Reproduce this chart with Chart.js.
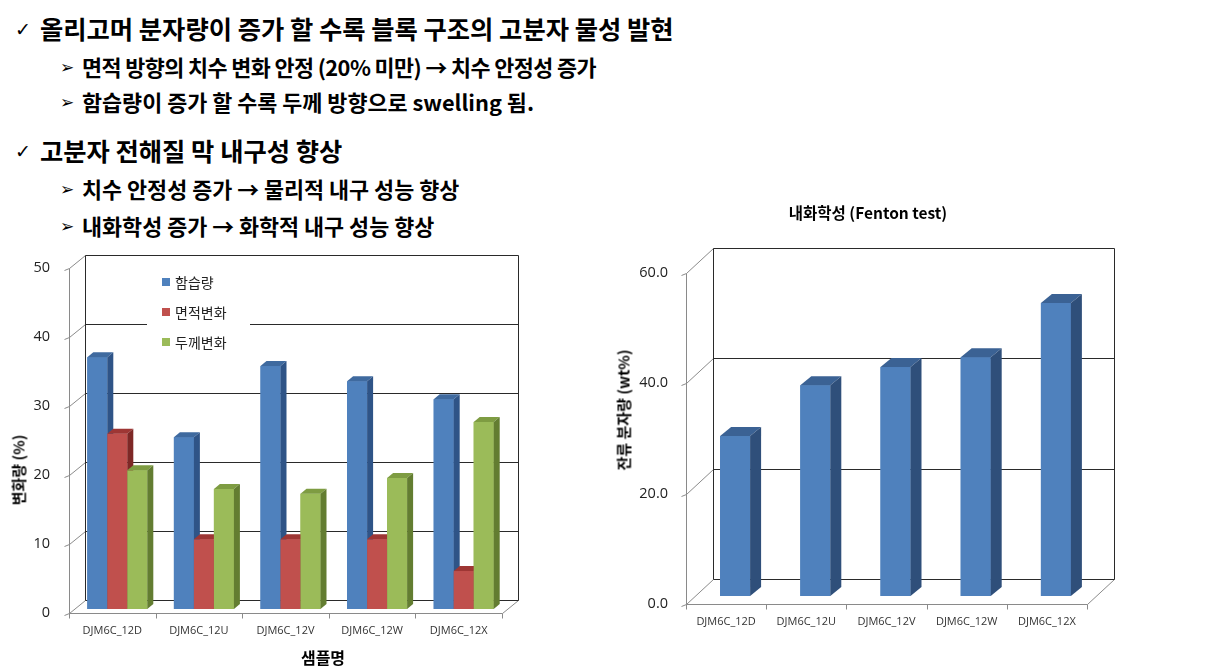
<!DOCTYPE html>
<html>
<head>
<meta charset="utf-8">
<script src="https://cdn.jsdelivr.net/npm/chart.js@4.4.0/dist/chart.umd.min.js"></script>
<style>
body { margin: 0; width: 1214px; height: 671px; background: #fff; position: relative; overflow: hidden; font-family: "Noto Sans CJK KR", sans-serif; }
.t { position: absolute; white-space: nowrap; font-weight: 700; color: #000; line-height: 1; }
.h1 { font-size: 25.3px; }
.h2 { font-size: 21.8px; }
.mk { position: absolute; white-space: nowrap; line-height: 1; font-family: "DejaVu Sans", sans-serif; color: #000; }
.c { position: absolute; white-space: nowrap; font-weight: 700; color: #000; transform: translate(-50%, -50%); line-height: 1; }
.rot { transform: translate(-50%, -50%) rotate(-90deg); }
#leftBox { position: absolute; left: 0; top: 240px; width: 600px; height: 431px; }
#rightBox { position: absolute; left: 600px; top: 190px; width: 614px; height: 481px; }
</style>
</head>
<body>
<div class="mk" style="left:15px; top:20px; font-size:19px;">✓</div>
<div class="t h1" style="left:40px; top:16px;">올리고머 분자량이 증가 할 수록 블록 구조의 고분자 물성 발현</div>
<div class="mk" style="left:60px; top:59px; font-size:17px;">➢</div>
<div class="t h2" style="left:82px; top:56px; letter-spacing:-0.6px;">면적 방향의 치수 변화 안정 (20% 미만) → 치수 안정성 증가</div>
<div class="mk" style="left:60px; top:94px; font-size:17px;">➢</div>
<div class="t h2" style="left:82px; top:91px;">함습량이 증가 할 수록 두께 방향으로 swelling 됨.</div>
<div class="mk" style="left:15px; top:142px; font-size:19px;">✓</div>
<div class="t h1" style="left:40px; top:138px;">고분자 전해질 막 내구성 향상</div>
<div class="mk" style="left:60px; top:181px; font-size:17px;">➢</div>
<div class="t h2" style="left:82px; top:178px;">치수 안정성 증가 → 물리적 내구 성능 향상</div>
<div class="mk" style="left:60px; top:218px; font-size:17px;">➢</div>
<div class="t h2" style="left:82px; top:215px;">내화학성 증가 → 화학적 내구 성능 향상</div>

<div id="leftBox"><canvas id="swellChart"></canvas></div>
<div id="rightBox"><canvas id="fentonChart"></canvas></div>

<div class="c rot" style="left:18px; top:470px; font-size:15px;">변화량 (%)</div>
<div class="c" style="left:323px; top:657px; font-size:16px;">샘플명</div>
<div class="c rot" style="left:623px; top:410px; font-size:15px;">잔류 분자량 (wt%)</div>
<div class="c" style="left:868px; top:213px; font-size:15.5px;">내화학성 (Fenton test)</div>

<script>
// 데이터
const categories = ['DJM6C_12D', 'DJM6C_12U', 'DJM6C_12V', 'DJM6C_12W', 'DJM6C_12X'];
const seriesNames = ['함습량', '면적변화', '두께변화'];
const waterUptake = [36.5, 24.9, 35.2, 33.0, 30.4];
const areaChange = [25.4, 10.1, 10.1, 10.1, 5.5];
const thickChange = [20.1, 17.4, 16.7, 19.0, 27.1];
const swellTicks = [0, 10, 20, 30, 40, 50];
const residualWt = [29.0, 38.2, 41.5, 43.3, 53.1];
const fentonTicks = [0, 20, 40, 60];

function seg(ctx, x1, y1, x2, y2) {
    ctx.beginPath();
    ctx.moveTo(Math.round(x1) + 0.5, Math.round(y1) + 0.5);
    ctx.lineTo(Math.round(x2) + 0.5, Math.round(y2) + 0.5);
    ctx.stroke();
}

// 3D 벽 + 막대 옆면/윗면
const box3d = {
    id: 'box3d',
    beforeDatasetsDraw(chart, args, o) {
        const ctx = chart.ctx, a = chart.chartArea, ys = chart.scales.y, xs = chart.scales.x;
        const n = chart.data.labels.length;
        const b = ys.getPixelForValue(ys.min), t = ys.getPixelForValue(ys.max);
        ctx.save();
        ctx.lineWidth = 1;
        // 앞쪽 축, 옆벽
        ctx.strokeStyle = '#8a8a8a';
        seg(ctx, a.left + o.fx, b + o.fy, a.left + o.fx, t + o.fy);
        seg(ctx, a.left + o.fx, b + o.fy, a.right + o.fx, b + o.fy);
        seg(ctx, a.right + o.fx, b + o.fy, a.right + o.bx, b + o.by);
        for (let i = 0; i <= n; i++) {
            const x = a.left + o.fx + i * (a.right - a.left) / n;
            seg(ctx, x, b + o.fy, x, b + o.fy + 5);
        }
        o.ticks.forEach(v => {
            const py = ys.getPixelForValue(v);
            seg(ctx, a.left + o.fx, py + o.fy, a.left + o.bx, py + o.by);
            seg(ctx, a.left + o.fx - 5, py + o.fy + 2, a.left + o.fx, py + o.fy);
        });
        // 뒷벽 격자
        ctx.strokeStyle = '#2a2a2a';
        o.ticks.forEach(v => {
            const py = ys.getPixelForValue(v);
            seg(ctx, a.left + o.bx, py + o.by, a.right + o.bx, py + o.by);
        });
        seg(ctx, a.left + o.bx, t + o.by, a.left + o.bx, b + o.by);
        seg(ctx, a.right + o.bx, t + o.by, a.right + o.bx, b + o.by);
        // 눈금 글자
        ctx.fillStyle = '#222';
        ctx.font = o.tickFont;
        ctx.textAlign = 'right';
        ctx.textBaseline = 'middle';
        o.ticks.forEach(v => ctx.fillText(v.toFixed(o.digits), a.left + o.fx - o.tickGap, ys.getPixelForValue(v) + o.fy));
        ctx.font = '11px "Open Sans", sans-serif';
        ctx.fillStyle = '#333';
        ctx.textAlign = 'center';
        chart.data.labels.forEach((l, i) => ctx.fillText(l, xs.getPixelForValue(i) + o.fx, b + o.fy + 18));
        // 범례
        if (o.legend) {
            const lg = o.legend;
            ctx.fillStyle = '#fff';
            ctx.fillRect(lg.x - 15, lg.y - 14, 103, 86);
            ctx.font = '14px "Noto Sans CJK KR", sans-serif';
            ctx.textAlign = 'left';
            chart.data.datasets.forEach((ds, i) => {
                const yy = lg.y + i * 30;
                ctx.fillStyle = ds.backgroundColor;
                ctx.fillRect(lg.x, yy - 4, 8, 8);
                ctx.fillStyle = '#222';
                ctx.fillText(ds.label, lg.x + 13, yy + 1);
            });
        }
        ctx.restore();
    },
    afterDatasetsDraw(chart, args, o) {
        const ctx = chart.ctx;
        const n = chart.data.labels.length;
        ctx.save();
        for (let j = 0; j < n; j++) {
            chart.data.datasets.forEach((ds, i) => {
                const el = chart.getDatasetMeta(i).data[j];
                const p = el.getProps(['x', 'y', 'base', 'width'], true);
                const l = p.x - p.width / 2, r = p.x + p.width / 2;
                ctx.fillStyle = ds.backgroundColor;
                ctx.fillRect(l, p.y, p.width, p.base - p.y);
                ctx.fillStyle = ds.topColor;
                ctx.beginPath();
                ctx.moveTo(l, p.y);
                ctx.lineTo(l + o.dx, p.y + o.dy);
                ctx.lineTo(r + o.dx, p.y + o.dy);
                ctx.lineTo(r, p.y);
                ctx.closePath();
                ctx.fill();
                ctx.fillStyle = ds.sideColor;
                ctx.beginPath();
                ctx.moveTo(r, p.y);
                ctx.lineTo(r + o.dx, p.y + o.dy);
                ctx.lineTo(r + o.dx, p.base + o.dy);
                ctx.lineTo(r, p.base);
                ctx.closePath();
                ctx.fill();
            });
        }
        ctx.restore();
    }
};

const baseOpts = {
    responsive: true,
    maintainAspectRatio: false,
    animation: false,
    events: [],
    plugins: { legend: { display: false }, tooltip: { enabled: false } }
};

new Chart(document.getElementById('swellChart'), {
    type: 'bar',
    data: {
        labels: categories,
        datasets: [
            { label: seriesNames[0], data: waterUptake, backgroundColor: '#4F81BD', topColor: '#3F6A9F', sideColor: '#2F5487' },
            { label: seriesNames[1], data: areaChange, backgroundColor: '#C0504D', topColor: '#9E3634', sideColor: '#7E2826' },
            { label: seriesNames[2], data: thickChange, backgroundColor: '#9BBB59', topColor: '#7E9C42', sideColor: '#637D31' }
        ]
    },
    options: {
        ...baseOpts,
        layout: { padding: { left: 74, right: 93, top: 24, bottom: 62 } },
        categoryPercentage: 0.693,
        barPercentage: 1,
        scales: {
            x: { display: false },
            y: { display: false, min: 0, max: 50 }
        },
        plugins: {
            ...baseOpts.plugins,
            box3d: { fx: -5, fy: 4, bx: 11, by: -9, dx: 6, dy: -5, ticks: swellTicks, digits: 0, tickGap: 19,
                tickFont: '14.5px "Open Sans", sans-serif', legend: { x: 162, y: 42 } }
        }
    },
    plugins: [box3d]
});

new Chart(document.getElementById('fentonChart'), {
    type: 'bar',
    data: {
        labels: categories,
        datasets: [
            { label: '잔류 분자량', data: residualWt, backgroundColor: '#4F81BD', topColor: '#3B6294', sideColor: '#2F4F7A' }
        ]
    },
    options: {
        ...baseOpts,
        layout: { padding: { left: 95, right: 118, top: 75, bottom: 75 } },
        categoryPercentage: 0.374,
        barPercentage: 1,
        scales: {
            x: { display: false },
            y: { display: false, min: 0, max: 60 }
        },
        plugins: {
            ...baseOpts.plugins,
            box3d: { fx: -9, fy: 8, bx: 18, by: -17, dx: 11, dy: -9, ticks: fentonTicks, digits: 1, tickGap: 18,
                tickFont: '14.5px "Open Sans", sans-serif' }
        }
    },
    plugins: [box3d]
});
</script>
</body>
</html>
